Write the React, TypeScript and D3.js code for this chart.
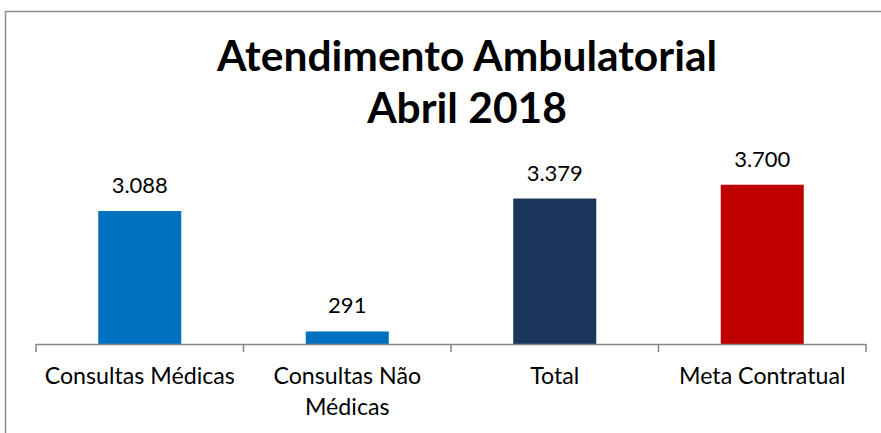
import React from "react";
import * as d3 from "d3";

const categories = ["Consultas Médicas", "Consultas Não Médicas", "Total", "Meta Contratual"];
const categoryLines = [["Consultas Médicas"], ["Consultas Não", "Médicas"], ["Total"], ["Meta Contratual"]];
const values = [3088, 291, 3379, 3700];
const valueLabels = ["3.088", "291", "3.379", "3.700"];
const barColors = ["#0070C0", "#0070C0", "#1A365D", "#C00000"];
const titleLines = ["Atendimento Ambulatorial", "Abril 2018"];

export default function App() {
  const W = 881, H = 433;
  const x0 = 36, x1 = 866, yBase = 344;
  const x = d3.scaleBand<string>().domain(categories).range([x0, x1]).paddingInner(0.6).paddingOuter(0.3);
  const y = d3.scaleLinear().domain([0, 4000]).range([yBase, yBase - 172.2]);
  const band = (x1 - x0) / categories.length;
  const ticks = d3.range(categories.length + 1).map((i) => x0 + i * band);
  const font = "Lato, 'Open Sans', sans-serif";
  return (
    <svg width={W} height={H} style={{ position: "absolute", left: 0, top: 0, background: "#fff" }}>
      <path d={`M5.5,${H + 5} V11.5 H${W + 5}`} fill="none" stroke="#898989" strokeWidth={1.5} />
      {titleLines.map((t, i) => (
        <text key={i} x={467} y={71 + i * 52} textAnchor="middle" fontFamily={font} fontWeight={700} fontSize={42.5} fill="#000">{t}</text>
      ))}
      {categories.map((c, i) => (
        <rect key={c} x={x(c)} y={y(values[i])} width={x.bandwidth()} height={yBase - y(values[i])} fill={barColors[i]} />
      ))}
      {categories.map((c, i) => (
        <text key={c} x={(x(c) as number) + x.bandwidth() / 2} y={y(values[i]) - 18} textAnchor="middle" fontFamily={font} fontSize={22} fill="#000">{valueLabels[i]}</text>
      ))}
      <line x1={x0} x2={x1} y1={yBase + 0.5} y2={yBase + 0.5} stroke="#868686" strokeWidth={1.5} />
      {ticks.map((t, i) => (
        <line key={i} x1={t} x2={t} y1={yBase} y2={yBase + 8} stroke="#868686" strokeWidth={1.5} />
      ))}
      {categories.map((c, i) => (
        <text key={c} textAnchor="middle" fontFamily={font} fontSize={23.2} fill="#000">
          {categoryLines[i].map((l, j) => (
            <tspan key={j} x={(x(c) as number) + x.bandwidth() / 2} y={384 + j * 31}>{l}</tspan>
          ))}
        </text>
      ))}
    </svg>
  );
}
